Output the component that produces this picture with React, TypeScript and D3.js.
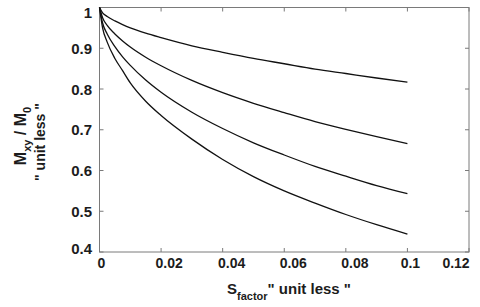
import React from "react";
import * as d3 from "d3";

const xs = [0, 0.001, 0.0025, 0.005, 0.0075, 0.01, 0.015, 0.02, 0.03, 0.04, 0.05, 0.06, 0.07, 0.08, 0.09, 0.1];
const curveA = [1, 0.987, 0.978, 0.967, 0.958, 0.95, 0.937, 0.926, 0.906, 0.89, 0.875, 0.862, 0.849, 0.838, 0.827, 0.817];
const curveB = [1, 0.975, 0.956, 0.935, 0.918, 0.903, 0.878, 0.857, 0.821, 0.791, 0.765, 0.742, 0.72, 0.701, 0.683, 0.666];
const curveC = [1, 0.962, 0.935, 0.904, 0.879, 0.858, 0.822, 0.792, 0.743, 0.703, 0.668, 0.638, 0.61, 0.586, 0.563, 0.543];
const curveD = [1, 0.95, 0.915, 0.875, 0.845, 0.815, 0.77, 0.735, 0.677, 0.627, 0.585, 0.55, 0.52, 0.492, 0.467, 0.444];
const series = [curveA, curveB, curveC, curveD];

const xTicks = [0, 0.02, 0.04, 0.06, 0.08, 0.1, 0.12];
const xTickLabels = ["0", "0.02", "0.04", "0.06", "0.08", "0.1", "0.12"];
const yTicks = [0.4, 0.5, 0.6, 0.7, 0.8, 0.9, 1];
const yTickLabels = ["0.4", "0.5", "0.6", "0.7", "0.8", "0.9", "1"];

const W = 480, H = 307;
const left = 99.5, right = 469, top = 7.5, bottom = 252;

export default function App() {
  const x = d3.scaleLinear().domain([0, 0.12]).range([left, right]);
  const y = d3.scaleLinear().domain([0.4, 1]).range([bottom, top]);
  const line = d3
    .line<number>()
    .x((_, i) => x(xs[i]))
    .y((d) => y(d))
    .curve(d3.curveMonotoneX);
  const font = "'Liberation Sans', Arial, sans-serif";
  const textColor = "#1c1c1c";
  const frame = "#7a7a7a";
  const xNudge = [2, 8, 9, 9, 9, 3, -13];
  const yNudge = [-4, 0, 0, 0, 0, 0, 5];
  return (
    <svg
      width={W}
      height={H}
      style={{ position: "absolute", left: 0, top: 0, background: "#fff" }}
      fontFamily={font}
      fontWeight="bold"
    >
      <rect x={left} y={top} width={right - left} height={bottom - top} fill="none" stroke={frame} strokeWidth={1} />
      {xTicks.map((t, i) => (
        <g key={"xt" + i}>
          <line x1={x(t)} x2={x(t)} y1={bottom} y2={bottom - 4} stroke={frame} />
          <line x1={x(t)} x2={x(t)} y1={top} y2={top + 4} stroke={frame} />
          <text x={x(t) + xNudge[i]} y={263} textAnchor="middle" dominantBaseline="central" fontSize={14} fill={textColor}>
            {xTickLabels[i]}
          </text>
        </g>
      ))}
      {yTicks.map((t, i) => (
        <g key={"yt" + i}>
          <line x1={left} x2={left + 4} y1={y(t)} y2={y(t)} stroke={frame} />
          <line x1={right} x2={right - 4} y1={y(t)} y2={y(t)} stroke={frame} />
          <text x={92} y={y(t) + yNudge[i]} textAnchor="end" dominantBaseline="central" fontSize={15} fill={textColor}>
            {yTickLabels[i]}
          </text>
        </g>
      ))}
      {series.map((s, i) => (
        <path key={"s" + i} d={line(s) || ""} fill="none" stroke="#111" strokeWidth={1.3} />
      ))}
      <text x={227} y={294} fontSize={15} fill={textColor}>
        <tspan>S</tspan>
        <tspan dy={6} fontSize={11}>factor</tspan>
        <tspan dy={-6}>{'" unit less "'}</tspan>
      </text>
      <text transform="translate(26,136) rotate(-90)" textAnchor="middle" fontSize={16} fill={textColor}>
        <tspan>M</tspan>
        <tspan dy={5} fontSize={11}>xy</tspan>
        <tspan dy={-5}>{" / M"}</tspan>
        <tspan dy={5} fontSize={11}>0</tspan>
      </text>
      <text transform="translate(45,142) rotate(-90)" textAnchor="middle" fontSize={14} fill={textColor}>
        {'" unit less "'}
      </text>
    </svg>
  );
}
